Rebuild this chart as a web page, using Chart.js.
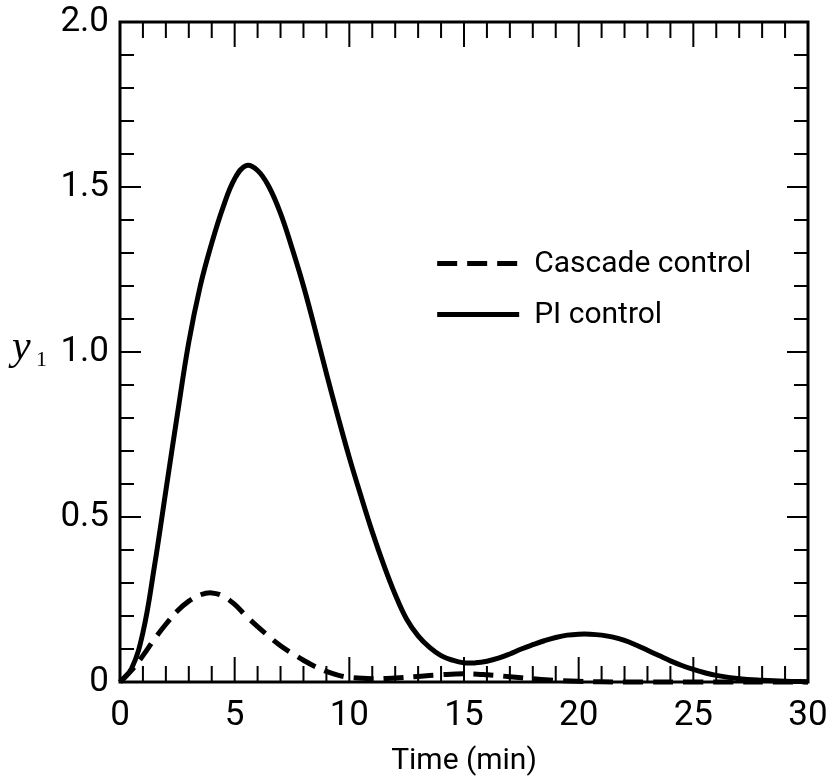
<!DOCTYPE html>
<html>
<head>
<meta charset="utf-8">
<script src="https://cdn.jsdelivr.net/npm/chart.js@4/dist/chart.umd.min.js"></script>
<style>
  html, body { margin: 0; padding: 0; background: #fff; }
  #wrap { width: 831px; height: 781px; }
</style>
</head>
<body>
<div id="wrap"><canvas id="chart" width="831" height="781"></canvas></div>
<script>
// values: y1 response vs time (min)
const piTime = [0, 0.5, 1, 1.5, 2, 2.5, 3, 3.5, 4, 4.5, 5, 5.5, 6, 6.5, 7, 7.5, 8, 8.5, 9, 9.5,
  10, 10.5, 11, 11.5, 12, 12.5, 13, 13.5, 14, 14.5, 15, 15.5, 16, 16.5, 17, 17.5, 18, 18.5, 19, 19.5,
  20, 20.5, 21, 21.5, 22, 22.5, 23, 23.5, 24, 24.5, 25, 25.5, 26, 27, 28, 29, 30];
const piValues = [0, 0.04, 0.15, 0.35, 0.58, 0.81, 1.03, 1.2, 1.33, 1.44,
  1.525, 1.565, 1.55, 1.5, 1.42, 1.315, 1.2, 1.07, 0.935, 0.805,
  0.68, 0.565, 0.455, 0.355, 0.265, 0.19, 0.14, 0.105, 0.08, 0.066,
  0.058, 0.058, 0.063, 0.072, 0.085, 0.1, 0.113, 0.125, 0.135, 0.142,
  0.145, 0.145, 0.142, 0.136, 0.126, 0.112, 0.096, 0.08, 0.064, 0.05,
  0.038, 0.028, 0.02, 0.01, 0.005, 0.002, 0.001];

const cascadeTime = [0, 0.5, 1, 1.5, 2, 2.5, 3, 3.5, 4, 4.5, 5, 5.5, 6, 6.5, 7, 7.5, 8, 8.5, 9, 9.5,
  10, 11, 12, 13, 14, 15, 16, 17, 18, 19, 20, 22, 25, 30];
const cascadeValues = [0, 0.035, 0.08, 0.13, 0.175, 0.215, 0.245, 0.264, 0.27, 0.26,
  0.235, 0.2, 0.168, 0.138, 0.11, 0.087, 0.066, 0.047, 0.032, 0.021,
  0.014, 0.01, 0.012, 0.017, 0.022, 0.025, 0.022, 0.016, 0.01, 0.005,
  0.002, 0, 0, 0];

const seriesLabels = ['Cascade control', 'PI control'];
const xTickLabels = ['0', '5', '10', '15', '20', '25', '30'];
const yTickLabels = ['0', '0.5', '1.0', '1.5', '2.0'];

const FONT = 'Roboto, "Liberation Sans", sans-serif';
const DASH = [20, 10];

const toPoints = (xs, ys) => xs.map((x, i) => ({ x, y: ys[i] }));
const isMajor = (v, step) => Math.abs(v / step - Math.round(v / step)) < 1e-6;

const frameTicks = {
  id: 'frameTicks',
  afterDatasetsDraw(chart) {
    const { ctx, chartArea: a, scales: { x, y } } = chart;
    ctx.save();
    ctx.strokeStyle = '#000';
    ctx.lineWidth = 2;
    ctx.beginPath();
    x.ticks.forEach(t => {
      const px = x.getPixelForValue(t.value);
      const len = isMajor(t.value, 5) ? 25 : 16;
      ctx.moveTo(px, a.bottom); ctx.lineTo(px, a.bottom - len);
      ctx.moveTo(px, a.top); ctx.lineTo(px, a.top + len);
    });
    y.ticks.forEach(t => {
      const py = y.getPixelForValue(t.value);
      const len = isMajor(t.value, 0.5) ? 21 : 14;
      ctx.moveTo(a.left, py); ctx.lineTo(a.left + len, py);
      ctx.moveTo(a.right, py); ctx.lineTo(a.right - len, py);
    });
    ctx.stroke();

    ctx.lineWidth = 3;
    ctx.strokeRect(a.left, a.top, a.width, a.height);

    // legend inside the plot
    const lx = a.left + a.width * 0.461;
    const ly = a.top + a.height * 0.366;
    chart.data.datasets.forEach((ds, i) => {
      const yy = ly + i * 51;
      ctx.lineWidth = 5;
      ctx.setLineDash(ds.borderDash || []);
      ctx.beginPath();
      ctx.moveTo(lx, yy);
      ctx.lineTo(lx + 82, yy);
      ctx.stroke();
      ctx.setLineDash([]);
      ctx.fillStyle = '#000';
      ctx.font = '30px ' + FONT;
      ctx.textAlign = 'left';
      ctx.textBaseline = 'middle';
      ctx.fillText(ds.label, lx + 97, yy + 1);
    });

    // y-axis label: y with subscript 1
    ctx.fillStyle = '#000';
    ctx.textAlign = 'left';
    ctx.textBaseline = 'alphabetic';
    ctx.font = 'italic 42px "Liberation Serif", "DejaVu Serif", serif';
    ctx.fillText('y', 12, 359);
    ctx.font = '22px "Liberation Serif", "DejaVu Serif", serif';
    ctx.fillText('1', 36, 366);
    ctx.restore();
  }
};

new Chart(document.getElementById('chart').getContext('2d'), {
  type: 'line',
  data: {
    datasets: [
      {
        label: seriesLabels[0],
        data: toPoints(cascadeTime, cascadeValues),
        borderColor: '#000',
        borderWidth: 5,
        borderDash: DASH,
        pointRadius: 0,
        tension: 0.4,
        fill: false,
        clip: false
      },
      {
        label: seriesLabels[1],
        data: toPoints(piTime, piValues),
        borderColor: '#000',
        borderWidth: 5,
        pointRadius: 0,
        tension: 0.4,
        fill: false,
        clip: false
      }
    ]
  },
  options: {
    responsive: false,
    animation: false,
    devicePixelRatio: 1,
    layout: { padding: { left: 0, top: 22, right: 23, bottom: 0 } },
    plugins: { legend: { display: false }, tooltip: { enabled: false } },
    scales: {
      x: {
        type: 'linear',
        min: 0,
        max: 30,
        grid: { display: false, drawTicks: false },
        border: { display: false },
        afterFit(scale) {
          scale.height = 99;
          scale.paddingLeft = 0;
          scale.paddingRight = 0;
        },
        ticks: {
          stepSize: 1,
          autoSkip: false,
          maxRotation: 0,
          padding: 13,
          color: '#000',
          font: { family: FONT, size: 35 },
          callback: v => isMajor(v, 5) ? xTickLabels[Math.round(v / 5)] : ''
        },
        title: {
          display: true,
          text: 'Time (min)',
          color: '#000',
          font: { family: FONT, size: 30 },
          padding: { top: 0, bottom: 2 }
        }
      },
      y: {
        min: 0,
        max: 2,
        grid: { display: false, drawTicks: false },
        border: { display: false },
        afterFit(scale) {
          scale.width = 120;
          scale.paddingTop = 0;
          scale.paddingBottom = 0;
        },
        ticks: {
          stepSize: 0.1,
          autoSkip: false,
          padding: 11,
          color: '#000',
          font: { family: FONT, size: 35 },
          callback: v => isMajor(v, 0.5) ? yTickLabels[Math.round(v / 0.5)] : ''
        }
      }
    }
  },
  plugins: [frameTicks]
});
</script>
</body>
</html>
